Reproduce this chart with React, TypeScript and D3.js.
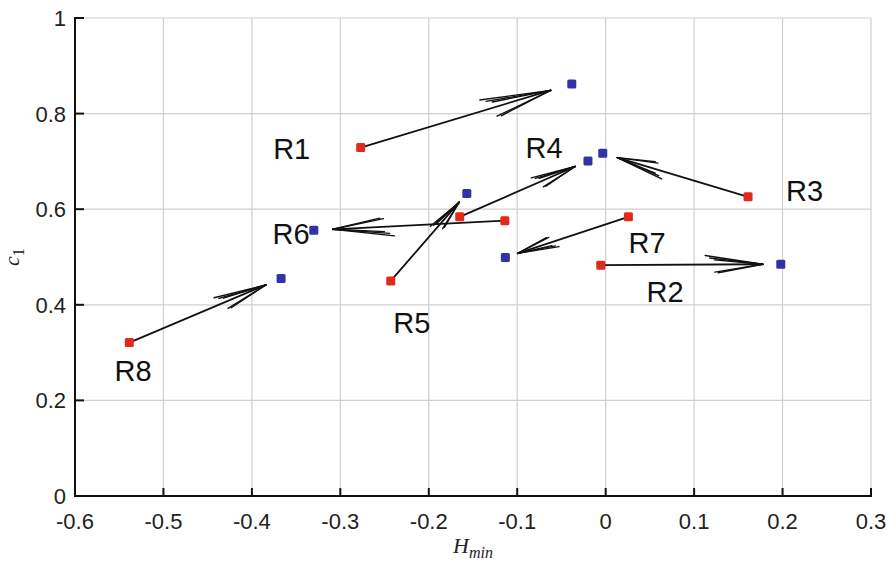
import React from "react";
import * as d3 from "d3";

const labels = ["R1", "R2", "R3", "R4", "R5", "R6", "R7", "R8"];
const startX = [-0.277, -0.0055, 0.161, -0.165, -0.243, -0.114, 0.0257, -0.5386];
const startY = [0.729, 0.483, 0.626, 0.584, 0.45, 0.576, 0.584, 0.321];
const endX = [-0.0383, 0.198, -0.0033, -0.02, -0.157, -0.33, -0.1134, -0.367];
const endY = [0.862, 0.485, 0.717, 0.701, 0.633, 0.556, 0.499, 0.455];
const labelX = [-0.355, 0.0672, 0.2249, -0.0697, -0.2192, -0.3557, 0.0468, -0.5344];
const labelY = [0.705, 0.405, 0.618, 0.707, 0.342, 0.527, 0.508, 0.241];

const xTicks = [-0.6, -0.5, -0.4, -0.3, -0.2, -0.1, 0, 0.1, 0.2, 0.3];
const yTicks = [0, 0.2, 0.4, 0.6, 0.8, 1];

const W = 890;
const H = 561;
const left = 75;
const right = 871;
const top = 18;
const bottom = 496;

const RED = "#e3281c";
const BLUE = "#3232a6";

export default function App() {
  const x = d3.scaleLinear().domain([-0.6, 0.3]).range([left, right]);
  const y = d3.scaleLinear().domain([0, 1]).range([bottom, top]);
  const fmt = (v: number) => (Math.abs(v) < 1e-9 ? "0" : String(+v.toFixed(1)));

  const arrows = labels.map((lab, i) => {
    const x0 = x(startX[i]);
    const y0 = y(startY[i]);
    const x1 = x(endX[i]);
    const y1 = y(endY[i]);
    const dx = (x1 - x0) * 0.9;
    const dy = (y1 - y0) * 0.9;
    const tx = x0 + dx;
    const ty = y0 + dy;
    const len = Math.sqrt(dx * dx + dy * dy);
    const ang = Math.atan2(dy, dx) + Math.PI;
    const barbs: [number, number][] = [];
    const specs = [
      [9, 0.36],
      [7, 0.33],
      [5.5, 0.3],
      [-9, 0.3],
      [-10.5, 0.28],
    ];
    specs.forEach(([deg, f]) => {
      const a = ang + (deg * Math.PI) / 180;
      barbs.push([tx + Math.cos(a) * len * f, ty + Math.sin(a) * len * f]);
    });
    return { x0, y0, tx, ty, barbs, i };
  });

  const ms = 9;

  return (
    <svg
      width={W}
      height={H}
      style={{ position: "absolute", left: 0, top: 0, background: "#fff" }}
      fontFamily="'Liberation Sans', Arial, sans-serif"
    >
      <rect width={W} height={H} fill="#fff" />
      {/* grid */}
      {xTicks.map((t) => (
        <line key={"gx" + t} x1={x(t)} x2={x(t)} y1={top} y2={bottom} stroke="#cfcfcf" strokeWidth={1.2} />
      ))}
      {yTicks.map((t) => (
        <line key={"gy" + t} x1={left} x2={right} y1={y(t)} y2={y(t)} stroke="#cfcfcf" strokeWidth={1.2} />
      ))}
      {/* axes */}
      <line x1={left} x2={left} y1={top - 1} y2={bottom + 1} stroke="#111" strokeWidth={2} />
      <line x1={left - 1} x2={right + 1} y1={bottom} y2={bottom} stroke="#111" strokeWidth={2} />
      {xTicks.map((t) => (
        <g key={"tx" + t}>
          <line x1={x(t)} x2={x(t)} y1={bottom} y2={bottom - 8} stroke="#111" strokeWidth={2} />
          <text x={x(t)} y={529} textAnchor="middle" fontSize={22} fill="#222">
            {fmt(t)}
          </text>
        </g>
      ))}
      {yTicks.map((t) => (
        <g key={"ty" + t}>
          <line x1={left} x2={left + 9} y1={y(t)} y2={y(t)} stroke="#111" strokeWidth={2} />
          <text x={66} y={y(t)} dy="0.36em" textAnchor="end" fontSize={22} fill="#222">
            {fmt(t)}
          </text>
        </g>
      ))}
      {/* axis labels */}
      <text x={473} y={553} textAnchor="middle" fontFamily="'Liberation Serif', 'Times New Roman', serif" fontStyle="italic" fontSize={22} fill="#222">
        H
        <tspan fontSize={16} dy={5}>min</tspan>
      </text>
      <text
        transform="translate(19,257) rotate(-90)"
        textAnchor="middle"
        fontFamily="'Liberation Serif', 'Times New Roman', serif"
        fontStyle="italic"
        fontSize={22}
        fill="#222"
      >
        c
        <tspan fontSize={16} dy={5} fontStyle="normal">1</tspan>
      </text>
      {/* arrows */}
      {arrows.map((a) => (
        <g key={"a" + a.i} stroke="#111" strokeWidth={1.8} fill="none" strokeLinecap="round">
          <line x1={a.x0} y1={a.y0} x2={a.tx} y2={a.ty} />
          {a.barbs.map((b, k) => (
            <line key={k} x1={a.tx} y1={a.ty} x2={b[0]} y2={b[1]} strokeWidth={1.4} />
          ))}
        </g>
      ))}
      {/* markers */}
      {labels.map((lab, i) => (
        <g key={"m" + lab}>
          <rect x={x(startX[i]) - ms / 2} y={y(startY[i]) - ms / 2} width={ms} height={ms} rx={1.5} fill={RED} />
          <rect x={x(endX[i]) - ms / 2} y={y(endY[i]) - ms / 2} width={ms} height={ms} rx={1.5} fill={BLUE} />
        </g>
      ))}
      {/* labels */}
      {labels.map((lab, i) => (
        <text key={"l" + lab} x={x(labelX[i])} y={y(labelY[i])} textAnchor="middle" fontSize={29} fill="#111">
          {lab}
        </text>
      ))}
    </svg>
  );
}
